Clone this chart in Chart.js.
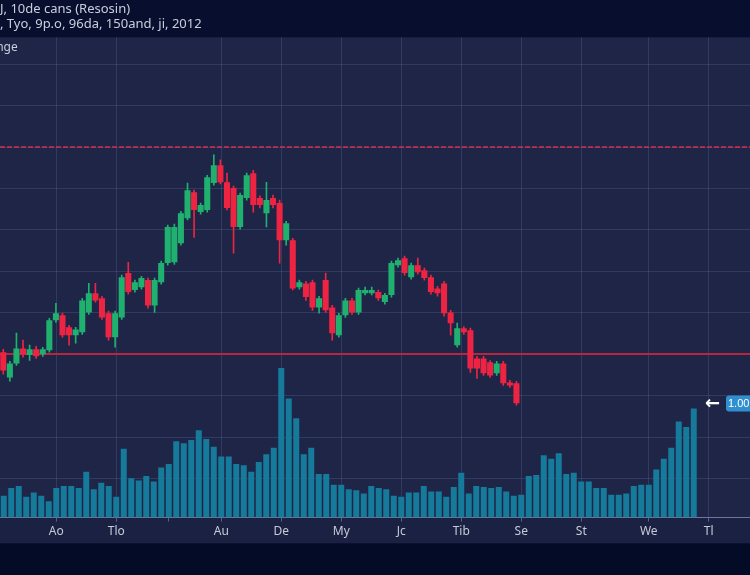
<!DOCTYPE html>
<html>
<head>
<meta charset="utf-8">
<script src="https://cdn.jsdelivr.net/npm/chart.js@4.4.0/dist/chart.umd.min.js"></script>
<style>
  html, body { margin: 0; padding: 0; background: #040b26; }
  #wrap { width: 750px; height: 575px; position: relative; }
</style>
</head>
<body>
<div id="wrap"><canvas id="price-chart"></canvas></div>
<script>
// candles
var open_values  = [40.5,34.4,37.8,41.4,39.8,41.2,40.0,41.0,48.2,49.4,46.5,44.6,45.3,50.1,54.7,53.5,49.9,44.1,48.9,59.6,55.5,56.2,57.9,51.8,57.4,62.0,62.2,66.8,72.8,79.1,74.3,74.8,81.3,85.6,81.5,80.1,70.7,77.7,83.7,77.7,74.0,77.7,76.5,67.5,67.5,56.2,57.1,57.4,51.3,57.9,51.3,44.6,49.4,53.0,50.1,54.7,54.7,55.0,52.6,54.3,61.5,63.2,58.6,61.5,60.3,58.6,55.9,57.1,50.1,42.2,46.3,45.8,39.0,39.0,38.1,35.4,37.8,33.2,33.0];
var close_values = [36.1,37.8,41.4,40.0,41.2,39.5,41.2,48.2,49.9,44.6,44.6,46.0,53.0,54.7,53.0,48.9,44.1,49.9,58.6,55.0,57.4,58.4,51.8,57.9,62.0,70.7,70.7,74.0,79.6,74.8,76.0,82.7,85.6,81.5,75.3,70.7,78.4,83.2,76.0,76.0,77.2,76.0,67.5,71.6,55.9,57.4,53.8,51.3,53.5,50.6,45.1,49.4,53.0,50.1,55.5,55.5,55.5,53.5,54.3,62.0,62.7,59.6,61.5,59.8,58.4,55.0,54.7,49.9,47.5,46.3,45.3,36.6,36.6,35.4,34.9,37.8,33.0,32.5,28.2];
var high_values  = [41.2,38.3,45.1,43.4,42.2,41.9,41.7,48.7,52.3,49.9,47.0,46.5,53.5,57.1,57.1,54.0,50.4,50.4,59.1,62.2,57.9,58.8,58.4,58.4,62.5,71.2,71.4,74.5,81.3,79.6,76.5,83.2,88.1,86.9,83.7,80.6,78.9,83.7,84.4,78.2,81.5,78.4,77.2,72.1,68.0,57.9,57.6,57.9,54.0,59.6,51.8,49.9,53.5,53.5,56.0,56.2,56.2,55.5,54.7,62.5,63.2,63.7,62.0,63.2,60.8,59.1,56.4,57.6,50.6,47.5,46.7,46.3,39.5,39.5,38.5,38.3,38.3,33.7,33.5];
var low_values   = [35.2,33.5,37.3,39.3,38.5,39.0,39.5,40.5,47.7,44.1,42.2,42.7,44.8,49.6,52.6,48.4,43.4,41.7,48.4,54.5,55.0,55.7,51.1,50.1,56.9,61.5,61.7,66.3,72.4,68.2,73.8,74.3,80.8,81.1,74.8,64.4,70.2,77.2,74.3,75.3,70.7,75.3,62.0,66.3,55.5,55.7,53.0,50.6,49.9,50.1,43.4,44.1,48.9,49.6,49.6,54.3,54.3,53.0,52.1,53.8,61.0,59.1,58.1,59.3,57.9,54.5,54.0,49.2,44.6,41.7,44.8,35.6,34.2,34.9,34.4,34.9,32.5,32.0,27.7];

// volume bars
var volume_values = [0.20,0.27,0.29,0.19,0.23,0.20,0.15,0.27,0.29,0.29,0.27,0.42,0.26,0.32,0.29,0.19,0.63,0.36,0.34,0.38,0.33,0.46,0.49,0.70,0.68,0.71,0.80,0.72,0.65,0.56,0.56,0.49,0.48,0.42,0.51,0.58,0.64,1.37,1.09,0.91,0.58,0.64,0.40,0.40,0.30,0.30,0.26,0.25,0.22,0.29,0.27,0.26,0.20,0.19,0.23,0.23,0.29,0.24,0.24,0.19,0.28,0.41,0.22,0.29,0.28,0.27,0.28,0.24,0.20,0.21,0.38,0.39,0.57,0.54,0.59,0.40,0.41,0.33,0.33,0.27,0.27,0.21,0.21,0.22,0.29,0.30,0.30,0.44,0.54,0.64,0.88,0.83,1.00];

// x axis ticks
var tick_labels = ['Ao','Tlo','Au','De','My','Jc','Tib','Se','St','We','Tl'];
var tick_slots  = [7,15,29,37,45,53,61,69,77,86,94];
var bare_tick_slots = [22];

// price levels and marker
var dashed_level = 90;
var solid_level = 40;
var last_marker = 1.00;

var title_lines = ['J, 10de cans (Resosin)', ', Tyo, 9p.o, 96da, 150and, ji, 2012'];
var corner_text = 'Range';

var n_volume_slots = 100;
var n_candle_slots = 114;

var green = '#20b06f';
var red = '#ee2443';
var teal = '#167a9a';
var grid_color = 'rgba(120,135,185,0.22)';

var volume_labels = Array.from({length: n_volume_slots}, function () { return ''; });
tick_slots.forEach(function (k, j) { volume_labels[k] = tick_labels[j]; });
var candle_labels = Array.from({length: n_candle_slots}, function () { return ''; });

var candle_colors = open_values.map(function (o, i) { return close_values[i] >= o ? green : red; });
var bodies = open_values.map(function (o, i) { return [o, close_values[i]]; });
var wicks = low_values.map(function (l, i) { return [l, high_values[i]]; });

// backgrounds, levels, badge
var decor = {
  id: 'decor',
  beforeDraw: function (chart) {
    var ctx = chart.ctx, a = chart.chartArea;
    ctx.save();
    ctx.fillStyle = '#080f2e';
    ctx.fillRect(0, 0, chart.width, a.top);
    ctx.fillStyle = '#1e2547';
    ctx.fillRect(a.left, a.top, a.right - a.left, a.bottom - a.top);
    ctx.fillStyle = '#1b2142';
    ctx.fillRect(a.left, a.bottom, a.right - a.left, 26);
    ctx.fillStyle = '#040b26';
    ctx.fillRect(0, a.bottom + 26, chart.width, chart.height - a.bottom - 26);
    ctx.restore();
  },
  beforeDatasetsDraw: function (chart) {
    var ctx = chart.ctx, a = chart.chartArea, y = chart.scales.y;
    ctx.save();
    ctx.strokeStyle = 'rgba(220,48,80,0.95)';
    ctx.lineWidth = 1.5;
    ctx.setLineDash([5, 2]);
    var yd = Math.round(y.getPixelForValue(dashed_level));
    ctx.beginPath(); ctx.moveTo(a.left, yd); ctx.lineTo(a.right, yd); ctx.stroke();
    ctx.setLineDash([]);
    ctx.strokeStyle = '#b7263f';
    ctx.lineWidth = 2;
    var ys = Math.round(y.getPixelForValue(solid_level));
    ctx.beginPath(); ctx.moveTo(a.left, ys); ctx.lineTo(a.right, ys); ctx.stroke();
    ctx.fillStyle = '#c9cedc';
    ctx.font = '12px "Noto Sans"';
    ctx.textBaseline = 'middle';
    ctx.fillText(corner_text, a.left - 18, a.top + 10);
    ctx.restore();
  },
  afterDraw: function (chart) {
    var ctx = chart.ctx, a = chart.chartArea;
    var yb = chart.scales.yv.getPixelForValue(last_marker) - 5;
    ctx.save();
    ctx.fillStyle = '#2f8fcf';
    ctx.beginPath();
    ctx.roundRect(a.right - 24, yb - 8, 32, 16, 3);
    ctx.fill();
    ctx.fillStyle = '#ffffff';
    ctx.font = '11px "Liberation Sans"';
    ctx.textBaseline = 'middle';
    ctx.textAlign = 'left';
    ctx.fillText(last_marker.toFixed(2), a.right - 22, yb + 0.5);
    ctx.font = 'bold 18px "DejaVu Sans"';
    ctx.textAlign = 'right';
    ctx.fillText('\u2190', a.right - 30, yb + 1);
    ctx.restore();
  }
};

var price_chart = new Chart(document.getElementById('price-chart'), {
  type: 'bar',
  data: {
    labels: volume_labels,
    datasets: [{
        label: 'Volume',
        data: volume_values,
        xAxisID: 'x',
        yAxisID: 'yv',
        backgroundColor: teal,
        barPercentage: 0.8,
        categoryPercentage: 1,
        grouped: false
      }, {
        label: 'Wick',
        data: wicks,
        xAxisID: 'xc',
        yAxisID: 'y',
        backgroundColor: candle_colors,
        barThickness: 1,
        grouped: false
      }, {
        label: 'Body',
        data: bodies,
        xAxisID: 'xc',
        yAxisID: 'y',
        backgroundColor: candle_colors,
        barPercentage: 0.92,
        categoryPercentage: 1,
        minBarLength: 2,
        grouped: false
      }
    ]
  },
  options: {
    animation: false,
    responsive: true,
    maintainAspectRatio: false,
    layout: { padding: { top: 0, bottom: 33, left: 0, right: 0 } },
    plugins: {
      legend: { display: false },
      tooltip: { enabled: false },
      title: {
        display: true,
        text: title_lines,
        align: 'start',
        color: '#c9cedc',
        font: { family: '"Noto Sans"', size: 13, weight: 'normal', lineHeight: 1.2 },
        padding: { top: 1, bottom: 5 }
      }
    },
    scales: {
      x: {
        type: 'category',
        position: 'bottom',
        offset: true,
        grid: {
          offset: false,
          color: function (c) { return volume_labels[c.index] ? grid_color : 'rgba(0,0,0,0)'; },
          tickColor: function (c) {
            return (volume_labels[c.index] || bare_tick_slots.indexOf(c.index) >= 0) ? 'rgba(150,160,200,0.5)' : 'rgba(0,0,0,0)';
          },
          tickLength: 4
        },
        border: { color: 'rgba(170,180,215,0.6)' },
        ticks: {
          autoSkip: false,
          maxRotation: 0,
          color: '#c5cad8',
          font: { family: '"Noto Sans"', size: 12 },
          padding: 3
        }
      },
      xc: {
        type: 'category',
        labels: candle_labels,
        offset: true,
        display: false
      },
      y: {
        position: 'left',
        min: 0.6,
        max: 116.5,
        afterFit: function (s) { s.width = 0; },
        grid: { color: grid_color, drawTicks: false },
        border: { display: false },
        ticks: { display: false, stepSize: 10, includeBounds: false }
      },
      yv: {
        position: 'right',
        min: 0,
        max: 4.4,
        display: false
      }
    }
  },
  plugins: [decor]
});
</script>
</body>
</html>
